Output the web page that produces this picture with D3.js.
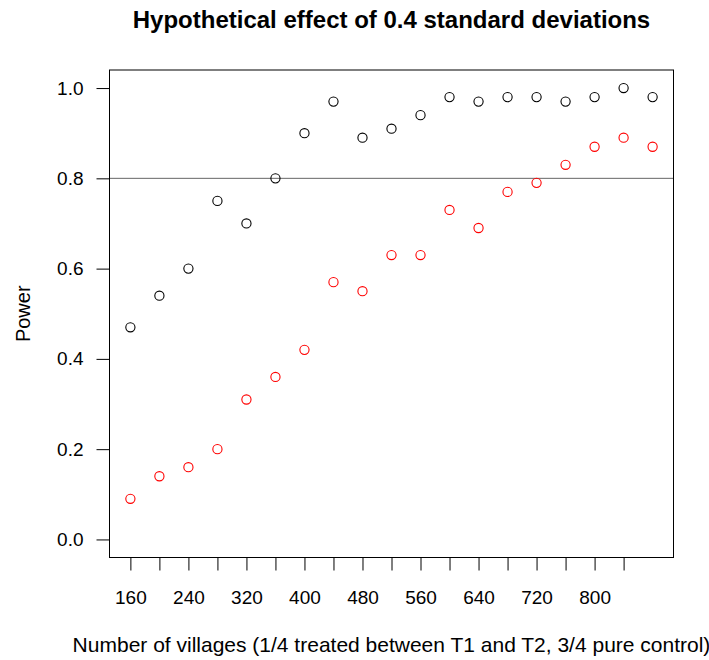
<!DOCTYPE html>
<html>
<head>
<meta charset="utf-8">
<script src="https://cdn.jsdelivr.net/npm/d3@7"></script>
<style>
  body { margin: 0; background: #fff; }
  text { font-family: "Liberation Sans", Arial, sans-serif; fill: #000; }
</style>
</head>
<body>
<svg id="chart"></svg>
<script>
// data
var villages = [160, 200, 240, 280, 320, 360, 400, 440, 480, 520, 560, 600, 640, 680, 720, 760, 800, 840, 880];
var powerBlack = [0.47, 0.54, 0.60, 0.75, 0.70, 0.80, 0.90, 0.97, 0.89, 0.91, 0.94, 0.98, 0.97, 0.98, 0.98, 0.97, 0.98, 1.00, 0.98];
var powerRed = [0.09, 0.14, 0.16, 0.20, 0.31, 0.36, 0.42, 0.57, 0.55, 0.63, 0.63, 0.73, 0.69, 0.77, 0.79, 0.83, 0.87, 0.89, 0.87];
var xTicks = [160, 200, 240, 280, 320, 360, 400, 440, 480, 520, 560, 600, 640, 680, 720, 760, 800, 840];
var xLabels = [160, 240, 320, 400, 480, 560, 640, 720, 800];
var yTicks = [0, 0.2, 0.4, 0.6, 0.8, 1.0];
var refLine = 0.8;

var width = 709;
var height = 660;

var svg = d3.select("#chart");
svg.attr("width", width);
svg.attr("height", height);

// plot box
var boxLeft = 109.5, boxRight = 673.5, boxTop = 70, boxBottom = 557.5;

// R style 4% padding on both scales
var x = d3.scaleLinear().domain([160 - 28.8, 880 + 28.8]).range([boxLeft, boxRight]);
var y = d3.scaleLinear().domain([-0.04, 1.04]).range([boxBottom, boxTop]);

// horizontal reference line
svg.append("line")
  .attr("x1", boxLeft).attr("x2", boxRight)
  .attr("y1", y(refLine)).attr("y2", y(refLine))
  .attr("stroke", "#666")
  .attr("stroke-width", 1);

// x axis ticks
var xAxis = d3.axisBottom(x)
  .tickValues(xTicks)
  .tickSize(13)
  .tickFormat(function (d) { return xLabels.indexOf(d) >= 0 ? d : ""; });
var gx = svg.append("g").attr("transform", "translate(0," + boxBottom + ")").call(xAxis);
gx.select(".domain").remove();
gx.selectAll("line").attr("stroke", "#000");
gx.selectAll("text").attr("font-size", "19px").attr("y", 46).attr("dy", null)
  .attr("font-family", "Liberation Sans, Arial, sans-serif");

// y axis ticks
var yAxis = d3.axisLeft(y)
  .tickValues(yTicks)
  .tickSize(13)
  .tickFormat(d3.format(".1f"));
var gy = svg.append("g").attr("transform", "translate(" + boxLeft + ",0)").call(yAxis);
gy.select(".domain").remove();
gy.selectAll("line").attr("stroke", "#000");
gy.selectAll("text").attr("font-size", "19px").attr("x", -26)
  .attr("font-family", "Liberation Sans, Arial, sans-serif");

// box
svg.append("rect")
  .attr("x", boxLeft).attr("y", boxTop)
  .attr("width", boxRight - boxLeft).attr("height", boxBottom - boxTop)
  .attr("fill", "none")
  .attr("stroke", "#000")
  .attr("stroke-width", 1);

// points
function drawPoints(values, color) {
  for (var i = 0; i < villages.length; i += 1) {
    svg.append("circle")
      .attr("cx", x(villages[i]))
      .attr("cy", y(values[i]))
      .attr("r", 4.6)
      .attr("fill", "none")
      .attr("stroke", color)
      .attr("stroke-width", 1.1);
  }
}
drawPoints(powerBlack, "#000");
drawPoints(powerRed, "#ff0000");

// title and axis titles
svg.append("text")
  .attr("x", (boxLeft + boxRight) / 2)
  .attr("y", 28)
  .attr("text-anchor", "middle")
  .attr("font-size", "24px")
  .attr("font-weight", "bold")
  .text("Hypothetical effect of 0.4 standard deviations");

svg.append("text")
  .attr("x", (boxLeft + boxRight) / 2)
  .attr("y", 652)
  .attr("text-anchor", "middle")
  .attr("font-size", "21px")
  .text("Number of villages (1/4 treated between T1 and T2, 3/4 pure control)");

svg.append("text")
  .attr("transform", "translate(30," + ((boxTop + boxBottom) / 2) + ") rotate(-90)")
  .attr("text-anchor", "middle")
  .attr("font-size", "20px")
  .text("Power");
</script>
</body>
</html>
